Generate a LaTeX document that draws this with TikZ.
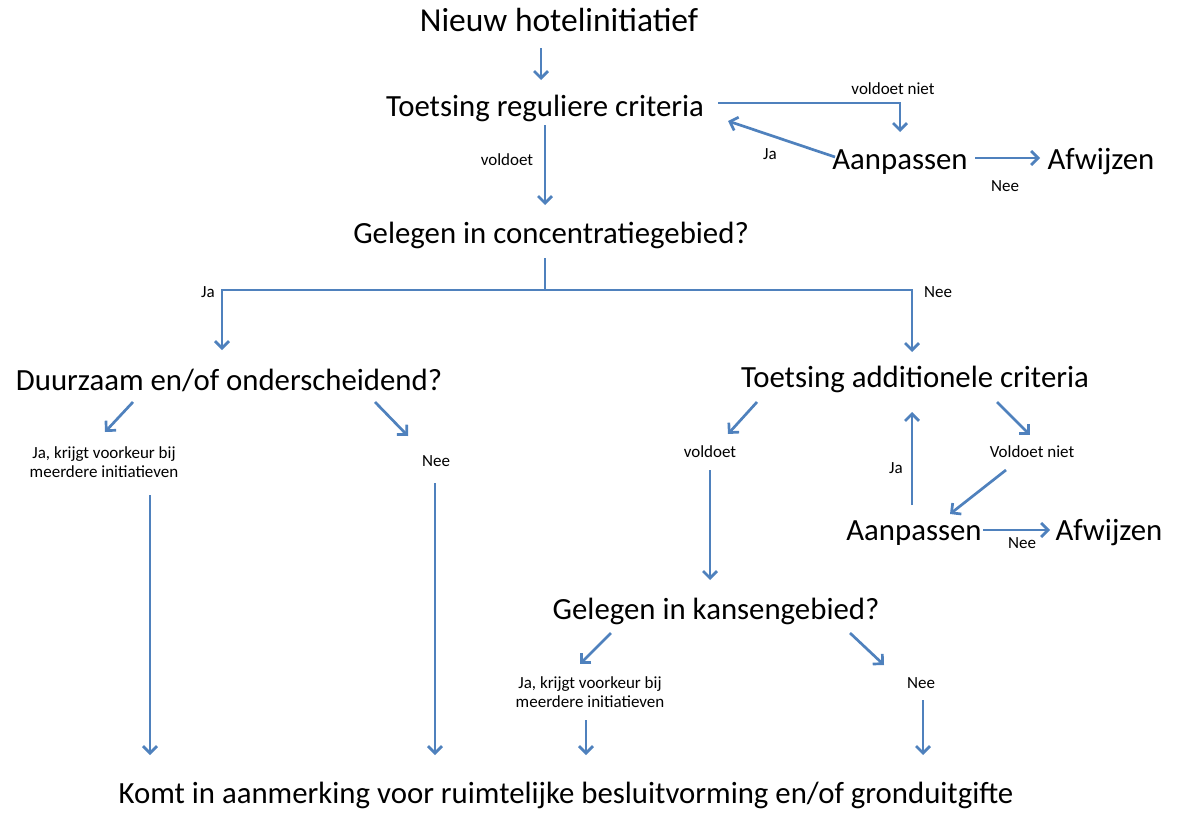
\documentclass[tikz,border=0pt]{standalone}
\usepackage{fontspec}
\setmainfont{Carlito}
\usetikzlibrary{arrows.meta}
\definecolor{Steel}{HTML}{4F81BD}

\begin{document}
\begin{tikzpicture}[x=1pt,y=-1pt,
big/.style={inner sep=0pt,font=\fontsize{30.8}{34}\selectfont},
small/.style={inner sep=0pt,align=center,font=\fontsize{17}{18.5}\selectfont},
link/.style={line width=2.7pt,draw=Steel},
arrow/.style={link,-{Straight Barb[length=7pt,width=14pt]}}]
\useasboundingbox (0,0) rectangle (1180,814);
% main steps
\node[big,font=\fontsize{33.5}{36}\selectfont](nieuw) at (559,20){Nieuw hotelinitiatief};
\node[big](regulier) at (545,108){Toetsing reguliere criteria};
\node[big](aanpas1) at (900,162){Aanpassen};
\node[big](afwijs1) at (1101,162){Afwijzen};
\node[big](concentratie) at (551,235){Gelegen in concentratiegebied?};
\node[big](duurzaam) at (229,380){Duurzaam en/of onderscheidend?};
\node[big](additioneel) at (915,379){Toetsing additionele criteria};
\node[big](aanpas2) at (914,533){Aanpassen};
\node[big](afwijs2) at (1109,533){Afwijzen};
\node[big](kansen) at (716,611){Gelegen in kansengebied?};
\node[big](komt) at (566,795){Komt in aanmerking voor ruimtelijke besluitvorming en/of gronduitgifte};
% labels
\node[small](voldoet1) at (507,160){voldoet};
\node[small](voldoetniet1) at (893,89){voldoet niet};
\node[small](ja1) at (770,154){Ja};
\node[small](nee1) at (1005,186){Nee};
\node[small](jaConc) at (208,292){Ja};
\node[small](neeConc) at (938,292){Nee};
\node[small](jaDuur) at (104,462){Ja, krijgt voorkeur bij\\meerdere initiatieven};
\node[small](neeDuur) at (436,461){Nee};
\node[small](voldoet2) at (710,452){voldoet};
\node[small](ja2) at (896,468){Ja};
\node[small](voldoetniet2) at (1032,452){Voldoet niet};
\node[small](nee2) at (1022,543){Nee};
\node[small](jaKans) at (590,692){Ja, krijgt voorkeur bij\\meerdere initiatieven};
\node[small](neeKans) at (921,683){Nee};
% connectors
\draw[arrow]([shift={(-18,28)}]nieuw.center)--([shift={(-4,-28)}]regulier.center);
\draw[arrow]([shift={(0,17)}]regulier.center)--([shift={(-6,-30)}]concentratie.center);
\draw[arrow]([shift={(173,-5)}]regulier.center)-|([shift={(0,-30)}]aanpas1.center);
\draw[arrow]([shift={(-65,-5)}]aanpas1.center)--([shift={(183,13)}]regulier.center);
\draw[arrow]([shift={(75,-4)}]aanpas1.center)--([shift={(-61,-4)}]afwijs1.center);
\coordinate(split) at ([shift={(-6,55)}]concentratie.center);
\draw[link]([shift={(-6,23)}]concentratie.center)--(split);
\draw[arrow](split)-|([shift={(-7,-30)}]duurzaam.center);
\draw[arrow](split)-|([shift={(-3,-27)}]additioneel.center);
\draw[arrow]([shift={(-96,22)}]duurzaam.center)--([shift={(1,-30)}]jaDuur.center);
\draw[arrow]([shift={(146,22)}]duurzaam.center)--([shift={(-28,-25)}]neeDuur.center);
\draw[arrow]([shift={(46,33)}]jaDuur.center)--([shift={(-416,-40)}]komt.center);
\draw[arrow]([shift={(-1,22)}]neeDuur.center)--([shift={(-131,-40)}]komt.center);
\draw[arrow]([shift={(-158,23)}]additioneel.center)--([shift={(18,-18)}]voldoet2.center);
\draw[arrow]([shift={(-2,-28)}]aanpas2.center)--([shift={(-3,33)}]additioneel.center);
\draw[arrow]([shift={(82,23)}]additioneel.center)--([shift={(-2,-17)}]voldoetniet2.center);
\draw[arrow]([shift={(-26,18)}]voldoetniet2.center)--([shift={(36,-19)}]aanpas2.center);
\draw[arrow]([shift={(69,-3)}]aanpas2.center)--([shift={(-59,-3)}]afwijs2.center);
\draw[arrow]([shift={(0,18)}]voldoet2.center)--([shift={(-6,-31)}]kansen.center);
\draw[arrow]([shift={(-105,22)}]kansen.center)--([shift={(-10,-28)}]jaKans.center);
\draw[arrow]([shift={(134,22)}]kansen.center)--([shift={(-37,-18)}]neeKans.center);
\draw[arrow]([shift={(-4,28)}]jaKans.center)--([shift={(20,-40)}]komt.center);
\draw[arrow]([shift={(2,17)}]neeKans.center)--([shift={(357,-40)}]komt.center);
\end{tikzpicture}
\end{document}
